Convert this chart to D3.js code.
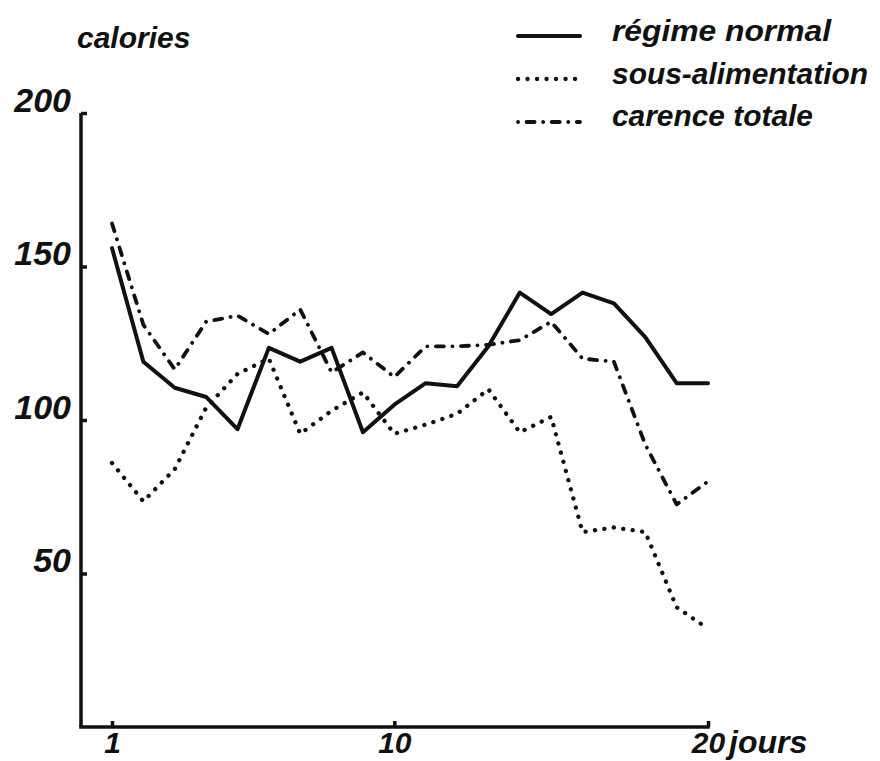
<!DOCTYPE html>
<html>
<head>
<meta charset="utf-8">
<script src="https://cdn.jsdelivr.net/npm/d3@7"></script>
<style>
  html, body { margin: 0; padding: 0; background: #fff; }
  svg { display: block; }
  text { font-family: "Liberation Sans", Arial, sans-serif; font-weight: bold; font-style: italic; fill: #111; }
</style>
</head>
<body>
<svg id="chart" width="880" height="761"></svg>
<script>
// ---- data ----
const days = [1,2,3,4,5,6,7,8,9,10,11,12,13,14,15,16,17,18,19,20];
const regimeNormal   = [156, 119, 110.5, 107.5, 97, 123.5, 119, 123.5, 96, 105, 112, 111, 124, 141.5, 134.5, 141.5, 138, 127, 112, 112];
const sousAlim       = [86, 73.5, 84, 104, 115, 120, 95.5, 103, 109, 95.5, 98.5, 102, 110, 96, 101, 63.5, 65, 63.5, 39, 32];
const carenceTotale  = [164, 131, 116.5, 132, 134, 128, 136, 115.5, 122, 114, 124, 124, 124.5, 126, 132, 120, 119, 92, 72.5, 80];
const yTickValues = [50, 100, 150, 200];
const xTickValues = [1, 10, 20];
const yAxisTitle = "calories";
const xAxisUnit = "jours";
const seriesNames = ["régime normal", "sous-alimentation", "carence totale"];

// ---- chart ----
const svg = d3.select("#chart");
const ink = "#111";
const x = d3.scaleLinear().domain([1, 20]).range([112, 708]);
const y = d3.scaleLinear().domain([0, 200]).range([727, 113]);
const axisLeftX = 81;

const styles = [
  { width: 4,   dash: null,         cap: "round" },
  { width: 4.3, dash: "0.1,9.4",    cap: "round" },
  { width: 3.8, dash: "8,8.5,0.1,8.5", cap: "round" }
];
const seriesData = [regimeNormal, sousAlim, carenceTotale];

// axes lines
svg.append("line")
  .attr("x1", axisLeftX).attr("x2", x(20))
  .attr("y1", y(0)).attr("y2", y(0))
  .attr("stroke", ink).attr("stroke-width", 3.5).attr("stroke-linecap", "square");

const yAxis = d3.axisLeft(y).tickValues(yTickValues).tickSize(-6).tickSizeOuter(0).tickPadding(10);
const gy = svg.append("g").attr("transform", `translate(${axisLeftX},0)`).call(yAxis);
gy.select(".domain").attr("stroke", ink).attr("stroke-width", 3.5)
  .attr("d", `M0,${y(0)}V${y(200)}`);
gy.selectAll(".tick line").attr("stroke", ink).attr("stroke-width", 3.5);
gy.selectAll(".tick text")
  .attr("font-family", null).attr("font-size", 34)
  .attr("dy", 0).attr("y", -2).attr("fill", ink);

const xAxis = d3.axisBottom(x).tickValues(xTickValues).tickSize(-6).tickSizeOuter(0).tickPadding(0);
const gx = svg.append("g").attr("transform", `translate(0,${y(0)})`).call(xAxis);
gx.select(".domain").remove();
gx.selectAll(".tick line").attr("stroke", ink).attr("stroke-width", 3.5);
gx.selectAll(".tick text")
  .attr("font-family", null).attr("font-size", 30)
  .attr("dy", 0).attr("y", 26).attr("fill", ink);

svg.append("text")
  .attr("x", x(20) + 21).attr("y", y(0) + 26)
  .attr("font-size", 32).text(xAxisUnit);

svg.append("text")
  .attr("x", 77).attr("y", 48)
  .attr("font-size", 30).text(yAxisTitle);

// series lines
const line = d3.line().x((d, i) => x(days[i])).y(d => y(d)).curve(d3.curveLinear);
seriesData.forEach((vals, k) => {
  const st = styles[k];
  svg.append("path")
    .datum(vals)
    .attr("d", line)
    .attr("fill", "none")
    .attr("stroke", ink)
    .attr("stroke-width", st.width)
    .attr("stroke-linecap", st.cap)
    .attr("stroke-linejoin", "round")
    .attr("stroke-dasharray", st.dash);
});

// legend
const legendY = [36, 79, 122];
const textY = [41, 84, 126];
const textW = [219, 256, 201];
const sampleOffset = [0, 0, 16.5];
seriesNames.forEach((name, k) => {
  const st = styles[k];
  svg.append("line")
    .attr("x1", 518).attr("x2", 580)
    .attr("y1", legendY[k]).attr("y2", legendY[k])
    .attr("stroke", ink)
    .attr("stroke-width", st.width)
    .attr("stroke-linecap", st.cap)
    .attr("stroke-dasharray", st.dash)
    .attr("stroke-dashoffset", sampleOffset[k]);
  svg.append("text")
    .attr("x", 612).attr("y", textY[k])
    .attr("font-size", 30)
    .attr("textLength", textW[k])
    .attr("lengthAdjust", "spacingAndGlyphs")
    .text(name);
});
</script>
</body>
</html>
